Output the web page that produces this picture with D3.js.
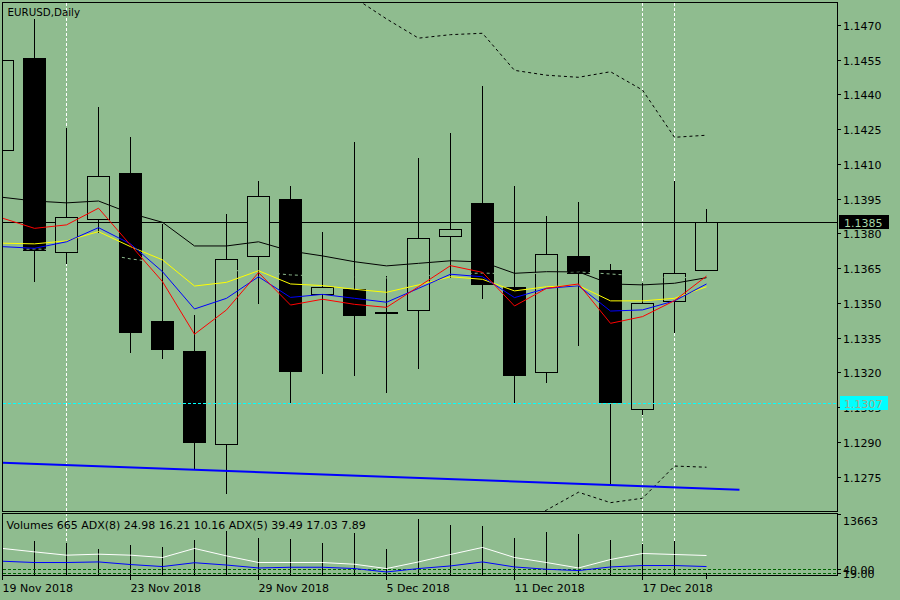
<!DOCTYPE html>
<html><head><meta charset="utf-8">
<script src="https://cdn.jsdelivr.net/npm/d3@7/dist/d3.min.js"></script>
<style>
html,body{margin:0;padding:0;background:#8FBC8F;}
svg{display:block;font-family:"DejaVu Sans",sans-serif;}
</style></head><body>
<svg id="c" width="900" height="600"></svg>
<script>
// ---------- DATA ----------
const symbolTitle = "EURUSD,Daily";
const dates = ["19 Nov 2018","20 Nov 2018","21 Nov 2018","22 Nov 2018","23 Nov 2018",
  "26 Nov 2018","27 Nov 2018","28 Nov 2018","29 Nov 2018","30 Nov 2018",
  "3 Dec 2018","4 Dec 2018","5 Dec 2018","6 Dec 2018","7 Dec 2018",
  "10 Dec 2018","11 Dec 2018","12 Dec 2018","13 Dec 2018","14 Dec 2018",
  "17 Dec 2018","18 Dec 2018","19 Dec 2018"];
const dateLabelIdx = [0,4,8,12,16,20];
const opens  = [1.14159,1.14558,1.13719,1.13861,1.14061,1.13422,1.13293,1.12890,1.13701,1.13949,1.13537,1.13559,1.13462,1.13468,1.13788,1.13932,1.13568,1.13201,1.13703,1.13642,1.13041,1.13510,1.13641];
const highs  = [1.14620,1.14729,1.14261,1.14350,1.14221,1.13845,1.13452,1.13890,1.14031,1.14009,1.13811,1.14199,1.13621,1.14130,1.14237,1.14441,1.14009,1.13880,1.13940,1.13674,1.13592,1.14031,1.13909];
const lows   = [1.14000,1.13596,1.13671,1.13806,1.13290,1.13261,1.12783,1.12681,1.13499,1.13072,1.13199,1.13189,1.13117,1.13218,1.13613,1.13520,1.13073,1.13160,1.13319,1.12714,1.13019,1.13376,1.13641];
const closes = [1.14548,1.13729,1.13870,1.14048,1.13376,1.13300,1.12899,1.13689,1.13961,1.13208,1.13568,1.13449,1.13458,1.13779,1.13818,1.13581,1.13190,1.13710,1.13628,1.13071,1.13499,1.13628,1.13850];

const maBlack  = [1.13956,1.13940,1.13932,1.13940,1.13887,1.13848,1.13746,1.13746,1.13764,1.13724,1.13703,1.13678,1.13660,1.13671,1.13682,1.13677,1.13628,1.13635,1.13634,1.13582,1.13578,1.13585,1.13609];
const maRed    = [1.13866,1.13822,1.13837,1.13909,1.13750,1.13592,1.13365,1.13470,1.13631,1.13491,1.13516,1.13494,1.13481,1.13570,1.13661,1.13632,1.13487,1.13563,1.13582,1.13412,1.13441,1.13510,1.13616];
const maBlue   = [1.13743,1.13736,1.13764,1.13825,1.13755,1.13635,1.13474,1.13520,1.13613,1.13524,1.13537,1.13520,1.13503,1.13563,1.13624,1.13613,1.13523,1.13563,1.13574,1.13465,1.13470,1.13509,1.13582];
const maYellow = [1.13758,1.13755,1.13768,1.13808,1.13743,1.13686,1.13573,1.13589,1.13639,1.13582,1.13575,1.13559,1.13546,1.13578,1.13613,1.13602,1.13552,1.13570,1.13575,1.13509,1.13509,1.13520,1.13570];
const maMiddle = [1.13729,1.13733,1.13729,1.13716,1.13690,1.13673,1.13651,1.13642,1.13634,1.13621,1.13616,1.13612,1.13608,1.13616,1.13625,1.13629,1.13625,1.13629,1.13634,1.13625,1.13616,1.13608,1.13612];

const bandUpperStart = 10;
const bandUpper = [1.14900,1.14817,1.14726,1.14643,1.14658,1.14664,1.14504,1.14483,1.14474,1.14498,1.14419,1.14215,1.14224];
const bandLowerStart = 16;
const bandLower = [1.12520,1.12606,1.12683,1.12638,1.12657,1.12796,1.12791];

const trendBars   = [0, 23.03];
const trendPrices = [1.12810, 1.12694];

const bidPrice = 1.1385;
const alertPrice = 1.1307;
const separatorIdx = [2,20,21];
const priceTicks = [1.1275,1.1290,1.1305,1.1320,1.1335,1.1350,1.1365,1.1380,1.1395,1.1410,1.1425,1.1440,1.1455,1.1470];

const volumes = [9500,8363,7808,6507,7399,6917,8604,10773,9013,8845,7881,10218,6507,13663,12219,11978,9086,10532,10050,8604,7640,8435,665];
const volMax = 13663;
const lineWhite = [6603,5784,4989,5230,4989,4434,6603,4820,3229,3229,3229,2820,1783,3374,5157,6844,4434,3229,1928,3952,5398,5157,4916];
const lineBlue  = [3543,3229,3229,3374,2747,2265,3181,2627,1928,2097,2097,1783,964,1783,2410,3374,2169,1615,1301,2169,2506,2506,2265];
const adxLevels = [40, 19];
const adx8 = [24.98,16.21,10.16];
const adx5 = [39.49,17.03,7.89];

// ---------- DRAW ----------
const BG = "#8FBC8F";
const svg = d3.select("#c");
const L = 2.5, R = 837.5, T = 2.5, B = 511.5, ST = 513.5, SB = 575.5;

const x = d3.scaleLinear().domain([0,1]).range([2.5, 34.5]);
const y = d3.scaleLinear().domain([1.12602, 1.14799]).range([511, 2]);
const sy = v => Math.round(y(v)) + 0.5;
const vy = d3.scaleLinear().domain([0, volMax]).range([576, 519]);
const ay = d3.scaleLinear().domain([0, 380]).range([576, 514]);

svg.append("rect").attr("width",900).attr("height",600).attr("fill",BG);

const defs = svg.append("defs");
defs.append("clipPath").attr("id","mainClip").append("rect").attr("x",3).attr("y",3).attr("width",834).attr("height",508);
defs.append("clipPath").attr("id","subClip").append("rect").attr("x",3).attr("y",514).attr("width",834).attr("height",61);

// separators (behind everything)
separatorIdx.forEach(i => {
  svg.append("line").attr("x1",x(i)).attr("x2",x(i)).attr("y1",3).attr("y2",575)
    .attr("stroke","#fff").attr("stroke-dasharray","3,2").attr("shape-rendering","crispEdges");
});

const main = svg.append("g").attr("clip-path","url(#mainClip)");

// bid line
main.append("line").attr("x1",L).attr("x2",R).attr("y1",sy(bidPrice)).attr("y2",sy(bidPrice))
  .attr("stroke","#000").attr("shape-rendering","crispEdges");

// candles
const cg = main.append("g").attr("shape-rendering","crispEdges");
dates.forEach((d,i) => {
  const o = opens[i], h = highs[i], l = lows[i], c = closes[i];
  cg.append("line").attr("x1",x(i)).attr("x2",x(i)).attr("y1",sy(h)).attr("y2",sy(l)).attr("stroke","#000");
  const top = Math.round(y(Math.max(o,c))), bot = Math.round(y(Math.min(o,c)));
  if (c > o) {
    cg.append("rect").attr("x",x(i)-11).attr("y",top+0.5).attr("width",22).attr("height",Math.max(0,bot-top))
      .attr("fill",BG).attr("stroke","#000");
  } else {
    cg.append("rect").attr("x",x(i)-11.5).attr("y",top).attr("width",23).attr("height",Math.max(1,bot-top+1))
      .attr("fill","#000");
  }
});

// indicator lines
const lineGen = (start) => d3.line().x((d,k)=>x(k+start)).y(d=>y(d));
main.append("path").attr("d",lineGen(0)(maMiddle)).attr("fill","none").attr("stroke",BG).attr("stroke-dasharray","3,3");
main.append("path").attr("d",lineGen(0)(maBlack)).attr("fill","none").attr("stroke","#000");
main.append("path").attr("d",lineGen(0)(maYellow)).attr("fill","none").attr("stroke","#ffff00");
main.append("path").attr("d",lineGen(0)(maBlue)).attr("fill","none").attr("stroke","#0000ff");
main.append("path").attr("d",lineGen(0)(maRed)).attr("fill","none").attr("stroke","#ff0000");
main.append("path").attr("d",lineGen(bandUpperStart)(bandUpper)).attr("fill","none").attr("stroke","#000").attr("stroke-dasharray","3,3");
main.append("path").attr("d",lineGen(bandLowerStart)(bandLower)).attr("fill","none").attr("stroke","#000").attr("stroke-dasharray","3,3");

// alert line (dashes drawn as small cyan rects)
const alRow = Math.round(y(alertPrice));
const dashStarts = d3.range(3, 837, 5);
main.append("g").selectAll("rect").data(dashStarts).join("rect")
  .attr("x", d => d).attr("y", alRow).attr("width", 3).attr("height", 1)
  .attr("fill", "#00ffff").attr("shape-rendering","crispEdges");

// trend line
main.append("line").attr("x1",x(trendBars[0])).attr("x2",x(trendBars[1]))
  .attr("y1",y(trendPrices[0])).attr("y2",y(trendPrices[1]))
  .attr("stroke","#0000ff").attr("stroke-width",2);

// sub panel
const sub = svg.append("g").attr("clip-path","url(#subClip)");
volumes.forEach((v,i) => {
  sub.append("line").attr("x1",x(i)).attr("x2",x(i)).attr("y1",576).attr("y2",Math.round(vy(v)))
    .attr("stroke","#000").attr("shape-rendering","crispEdges");
});
adxLevels.forEach(lv => {
  const yy = Math.round(ay(lv)) + 0.5;
  sub.append("line").attr("x1",L).attr("x2",R).attr("y1",yy).attr("y2",yy)
    .attr("stroke","#006400").attr("stroke-dasharray","3,2").attr("shape-rendering","crispEdges");
});
const subLine = d3.line().x((d,k)=>x(k)).y(d=>vy(d));
sub.append("path").attr("d",subLine(lineBlue)).attr("fill","none").attr("stroke","#0000ff");
sub.append("path").attr("d",subLine(lineWhite)).attr("fill","none").attr("stroke","#ffffff");

// frames
svg.append("rect").attr("x",L).attr("y",T).attr("width",R-L).attr("height",B-T)
  .attr("fill","none").attr("stroke","#000").attr("shape-rendering","crispEdges");
svg.append("rect").attr("x",L).attr("y",ST).attr("width",R-L).attr("height",SB-ST)
  .attr("fill","none").attr("stroke","#000").attr("shape-rendering","crispEdges");

// price axis
const ax = svg.append("g").attr("font-size","11px").attr("fill","#000");
priceTicks.forEach(p => {
  const yy = sy(p);
  ax.append("line").attr("x1",837).attr("x2",841).attr("y1",yy).attr("y2",yy).attr("stroke","#000").attr("shape-rendering","crispEdges");
  ax.append("text").attr("x",843).attr("y",yy+4).text(p.toFixed(4));
});

// label boxes
const bidY = sy(bidPrice);
svg.append("rect").attr("x",839).attr("y",bidY-7.5).attr("width",50).attr("height",14).attr("fill","#000");
svg.append("text").attr("x",844).attr("y",bidY+4.5).attr("font-size","11px").attr("fill","#a8d8a8").text(bidPrice.toFixed(4));
const alY = sy(alertPrice);
svg.append("rect").attr("x",840).attr("y",alY-7.5).attr("width",48).attr("height",14).attr("fill","#00ffff");
svg.append("text").attr("x",844).attr("y",alY+4.5).attr("font-size","11px").attr("fill","#a0a888").text(alertPrice.toFixed(4));

// sub axis
const topY = 514.5;
ax.append("line").attr("x1",837).attr("x2",841).attr("y1",topY).attr("y2",topY).attr("stroke","#000").attr("shape-rendering","crispEdges");
ax.append("text").attr("x",843).attr("y",525).text(String(volMax));
adxLevels.forEach(lv => {
  const yy = Math.round(ay(lv)) + 0.5;
  ax.append("line").attr("x1",837).attr("x2",841).attr("y1",yy).attr("y2",yy).attr("stroke","#000").attr("shape-rendering","crispEdges");
  ax.append("text").attr("x",843).attr("y",yy+4).text(lv.toFixed(2));
});

// time axis
dateLabelIdx.forEach(i => {
  ax.append("line").attr("x1",x(i)).attr("x2",x(i)).attr("y1",576).attr("y2",580).attr("stroke","#000").attr("shape-rendering","crispEdges");
  ax.append("text").attr("x",x(i)).attr("y",591.5).text(dates[i]);
});
ax.append("line").attr("x1",x(dates.length-1)).attr("x2",x(dates.length-1)).attr("y1",576).attr("y2",579).attr("stroke","#000").attr("shape-rendering","crispEdges");

// titles
svg.append("text").attr("x",7.5).attr("y",16).attr("font-size","10.3px").attr("fill","#000").text(symbolTitle);
svg.append("text").attr("x",6.5).attr("y",528.5).attr("font-size","11px").attr("fill","#000")
  .text(`Volumes ${volumes[volumes.length-1]} ADX(8) ${adx8.map(v=>v.toFixed(2)).join(" ")} ADX(5) ${adx5.map(v=>v.toFixed(2)).join(" ")}`);
</script>
</body></html>
